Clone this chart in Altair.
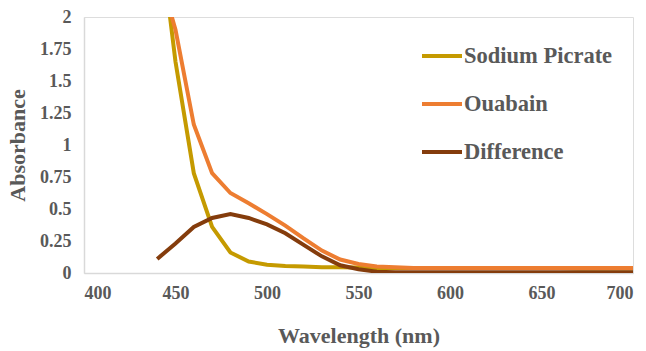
import altair as alt
import pandas as pd

wavelength = [440, 450, 460, 470, 480, 490, 500, 510, 520, 530, 540, 550, 560, 570, 580, 590, 600, 610, 620, 630, 640, 650, 660, 670, 680, 690, 700]
sodium_picrate = [2.82, 1.65, 0.78, 0.36, 0.16, 0.09, 0.065, 0.055, 0.05, 0.045, 0.045, 0.042, 0.04, 0.04, 0.04, 0.04, 0.04, 0.04, 0.04, 0.04, 0.04, 0.04, 0.04, 0.035, 0.035, 0.035, 0.035]
ouabain = [2.4, 1.9, 1.16, 0.78, 0.625, 0.545, 0.46, 0.37, 0.27, 0.175, 0.105, 0.07, 0.05, 0.045, 0.04, 0.04, 0.04, 0.04, 0.04, 0.04, 0.04, 0.04, 0.04, 0.04, 0.04, 0.04, 0.04]
difference = [0.11, 0.23, 0.36, 0.43, 0.46, 0.43, 0.38, 0.31, 0.22, 0.13, 0.06, 0.03, 0.01, 0.005, 0.005, 0.005, 0.005, 0.005, 0.005, 0.005, 0.005, 0.005, 0.005, 0.005, 0.005, 0.005, 0.005]

series_names = ["Sodium Picrate", "Ouabain", "Difference"]
series_colors = ["#C59A00", "#ED7D31", "#843C0C"]

rows = []
for name, vals in zip(series_names, [sodium_picrate, ouabain, difference]):
    for w, v in zip(wavelength, vals):
        rows.append({"Wavelength": w, "Absorbance": v, "Series": name})
df = pd.DataFrame(rows)

font = "Liberation Serif"
gray = "#595959"

chart = alt.Chart(df).mark_line(strokeWidth=4, clip=True).encode(
    x=alt.X("Wavelength:Q",
            scale=alt.Scale(domain=[400, 700], nice=False),
            axis=alt.Axis(title="Wavelength (nm)", values=[400, 450, 500, 550, 600, 650, 700],
                          grid=False, ticks=False, domainColor="#D9D9D9", domainWidth=1.5,
                          labelFont=font, labelFontSize=18, labelFontWeight="bold", labelColor=gray,
                          labelPadding=11, titleFont=font, titleFontSize=22, titleFontWeight="bold",
                          titleColor=gray, titlePadding=23)),
    y=alt.Y("Absorbance:Q",
            scale=alt.Scale(domain=[0, 2], nice=False),
            axis=alt.Axis(title="Absorbance", values=[0, 0.25, 0.5, 0.75, 1, 1.25, 1.5, 1.75, 2],
                          labelExpr="datum.value + ''", grid=False, ticks=False,
                          domainColor="#D9D9D9", domainWidth=1.5,
                          labelFont=font, labelFontSize=18, labelFontWeight="bold", labelColor=gray,
                          labelPadding=13, titleFont=font, titleFontSize=22, titleFontWeight="bold",
                          titleColor=gray, titlePadding=10)),
    color=alt.Color("Series:N",
                    scale=alt.Scale(domain=series_names, range=series_colors),
                    legend=alt.Legend(title=None, orient="none", legendX=336, legendY=17,
                                      symbolType="stroke", symbolStrokeWidth=4, symbolSize=1600,
                                      labelFont=font, labelFontSize=22.5, labelFontWeight="bold",
                                      labelColor=gray, labelOffset=0, rowPadding=14)),
    order=alt.Order("Wavelength:Q"),
).properties(
    width=549, height=256,
    padding={"left": 84, "top": 17, "right": 13, "bottom": 78},
    autosize=alt.AutoSizeParams(type="none"),
).configure_view(stroke=None).configure(background="white")

chart.save("out.html", embed_options={"renderer": "svg", "actions": False})
